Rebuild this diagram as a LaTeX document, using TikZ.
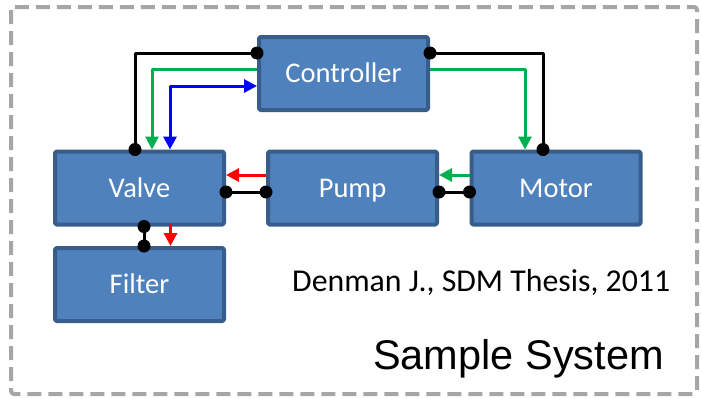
\documentclass[tikz,border=0pt]{standalone}
\usepackage{fontspec}
\setmainfont{Carlito}
\newfontfamily\arialfont{Liberation Sans}
\usetikzlibrary{arrows.meta}
\definecolor{boxfill}{HTML}{4F81BD}
\definecolor{boxline}{HTML}{385D8A}
\definecolor{sigreen}{HTML}{00B050}
\definecolor{framegray}{HTML}{A6A6A6}
\begin{document}
\begin{tikzpicture}[x=1pt, y=-1pt, line join=round,
  >={Triangle[length=13pt,width=13pt]},
  block/.style={draw=boxline, fill=boxfill, line width=4pt, rounded corners=1.5pt,
    minimum width=169pt, minimum height=73pt, inner sep=0pt, text=white,
    text height=18.5pt, text depth=0pt,
    font=\fontsize{28.5}{30}\selectfont},
  wire/.style={line width=3pt, black},
  dot/.style={circle, fill=black, inner sep=0pt, minimum size=13pt},
  sig/.style={line width=3pt, ->}]
\useasboundingbox (0,0) rectangle (702,399);
\draw[framegray, line width=4pt, dash pattern=on 14pt off 7pt, rounded corners=3pt]
  (11,7) rectangle (697,394);
\node[block] (ctrl)   at (343.5,73.5) {Controller};
\node[block] (valve)  at (139.5,188)  {Valve};
\node[block] (pump)   at (352.5,188)  {Pump};
\node[block] (motor)  at (556,188)    {Motor};
\node[block] (filter) at (139.5,284.5) {Filter};
\node[anchor=base west, font=\fontsize{31.8}{33}\selectfont, inner sep=0pt] (cite) at (292,291)
  {Denman J., SDM Thesis, 2011};
\node[anchor=base east, font=\arialfont\fontsize{41.5}{44}\selectfont, inner sep=0pt] (title) at (664,369)
  {Sample System};
\draw[sig, sigreen] ([yshift=4.5pt]ctrl.west) -| ([xshift=12.5pt]valve.north);
\draw[sig, blue, <->] ([xshift=30.5pt]valve.north) |- ([yshift=-12.5pt]ctrl.west);
\draw[sig, sigreen] ([yshift=4.5pt]ctrl.east) -| ([xshift=-31pt]motor.north);
\draw[sig, red] ([yshift=13pt]pump.west) -- ([yshift=13pt]valve.east);
\draw[sig, sigreen] ([yshift=13pt]motor.west) -- ([yshift=13pt]pump.east);
\draw[sig, red] ([xshift=31pt,yshift=3pt]valve.south) -- ([xshift=31pt]filter.north);
\draw[wire] ([xshift=-4.5pt]valve.north) |- ([yshift=20.5pt]ctrl.west)
  node[dot, pos=0] {} node[dot, pos=1] {};
\draw[wire] ([yshift=20.5pt]ctrl.east) -| ([xshift=-13pt]motor.north)
  node[dot, pos=0] {} node[dot, pos=1] {};
\draw[wire] ([yshift=-4pt]valve.east) -- ([yshift=-4pt]pump.west)
  node[dot, pos=0] {} node[dot, pos=1] {};
\draw[wire] ([yshift=-4pt]pump.east) -- ([yshift=-4pt]motor.west)
  node[dot, pos=0] {} node[dot, pos=1] {};
\draw[wire] ([xshift=4.5pt]valve.south) -- ([xshift=4.5pt]filter.north)
  node[dot, pos=0] {} node[dot, pos=1] {};
\end{tikzpicture}
\end{document}
